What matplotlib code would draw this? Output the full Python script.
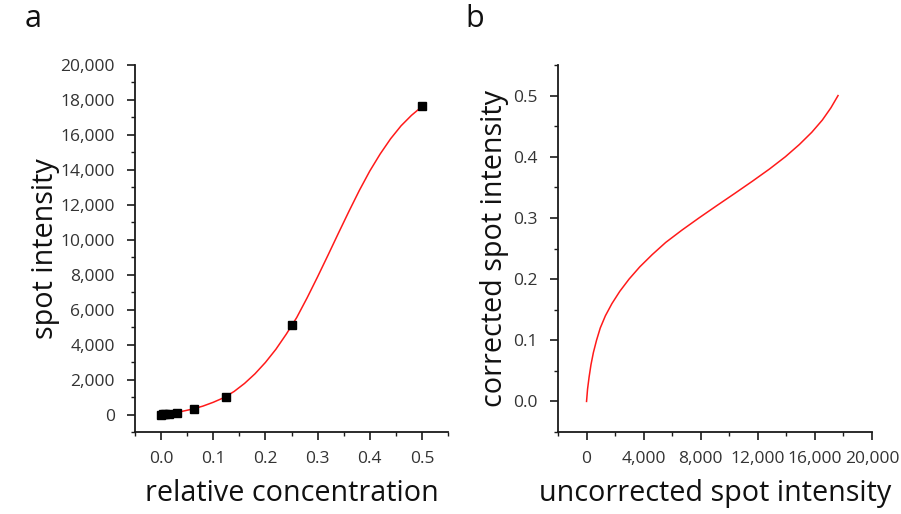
import matplotlib
matplotlib.use("Agg")
import matplotlib.pyplot as plt
from matplotlib.ticker import MultipleLocator, FuncFormatter

plt.rcParams['font.family'] = ['Open Sans', 'DejaVu Sans']

# measured data points (panel a)
conc_points = [0.0, 0.0039, 0.0078, 0.0156, 0.03125, 0.0625, 0.125, 0.25, 0.5]
intensity_points = [0, 10, 25, 50, 110, 330, 1030, 5100, 17650]

# fitted calibration curve (concentration -> intensity)
curve_conc = [0.00, 0.02, 0.04, 0.06, 0.08, 0.10, 0.12, 0.14, 0.16, 0.18,
              0.20, 0.22, 0.24, 0.26, 0.28, 0.30, 0.32, 0.34, 0.36, 0.38,
              0.40, 0.42, 0.44, 0.46, 0.48, 0.50]
curve_intensity = [0, 70, 180, 310, 480, 700, 960, 1320, 1780, 2330,
                   2980, 3730, 4600, 5550, 6680, 7880, 9120, 10380, 11620, 12820,
                   13930, 14910, 15780, 16520, 17120, 17620]

W, H = 901, 514
fig = plt.figure(figsize=(W / 100, H / 100), dpi=100)

SPINE = '#1a1a1a'
TICKC = '#333333'
RED = '#ff1a1a'
LABEL_FS = 20.7

def style(ax):
    for s in ('top', 'right'):
        ax.spines[s].set_visible(False)
    for s in ('left', 'bottom'):
        ax.spines[s].set_color(SPINE)
        ax.spines[s].set_linewidth(1.3)
    ax.tick_params(which='major', direction='out', length=5.5, width=1.2,
                   color=SPINE, labelcolor=TICKC, labelsize=12.5)
    ax.tick_params(which='minor', direction='out', length=3, width=1.0, color=SPINE)
    ax.tick_params(axis='y', which='major', pad=9)
    ax.tick_params(axis='x', which='major', pad=8)

comma = FuncFormatter(lambda v, p: f"{int(round(v)):,}")
one_dec = FuncFormatter(lambda v, p: f"{v:.1f}")

# panel a
axa = fig.add_axes([135 / W, 1 - 432 / H, 313 / W, 367 / H])
style(axa)
axa.plot(curve_conc, curve_intensity, color=RED, lw=1.1, zorder=2)
axa.plot(conc_points, intensity_points, 's', color='black', ms=5.5, zorder=3)
axa.xaxis.set_minor_locator(MultipleLocator(0.05))
axa.yaxis.set_minor_locator(MultipleLocator(1000))
axa.set_xticks([0, 0.1, 0.2, 0.3, 0.4, 0.5])
axa.xaxis.set_major_formatter(one_dec)
axa.set_yticks(list(range(0, 20001, 2000)))
axa.yaxis.set_major_formatter(comma)
axa.set_xlim(-0.05, 0.55)
axa.set_ylim(-1000, 20000)
axa.set_xlabel('relative concentration', fontsize=LABEL_FS, color='#111111', labelpad=9)
axa.set_ylabel('spot intensity', fontsize=LABEL_FS, color='#111111', labelpad=0)

# panel b (inverse curve)
axb = fig.add_axes([558 / W, 1 - 432 / H, 314 / W, 367 / H])
style(axb)
axb.plot(curve_intensity, curve_conc, color=RED, lw=1.1)
axb.xaxis.set_minor_locator(MultipleLocator(2000))
axb.yaxis.set_minor_locator(MultipleLocator(0.05))
axb.set_xticks(list(range(0, 20001, 4000)))
axb.xaxis.set_major_formatter(comma)
axb.set_yticks([0, 0.1, 0.2, 0.3, 0.4, 0.5])
axb.yaxis.set_major_formatter(one_dec)
axb.set_xlim(-2000, 20000)
axb.set_ylim(-0.05, 0.55)
axb.set_xlabel('uncorrected spot intensity', fontsize=LABEL_FS, color='#111111', labelpad=9)
axb.set_ylabel('corrected spot intensity', fontsize=LABEL_FS, color='#111111', labelpad=3)

fig.text(33 / W, 1 - 19 / H, 'a', fontsize=22, color='#111111', ha='center', va='center')
fig.text(475 / W, 1 - 19 / H, 'b', fontsize=22, color='#111111', ha='center', va='center')

fig.savefig('out.png', dpi=100, facecolor='white')
